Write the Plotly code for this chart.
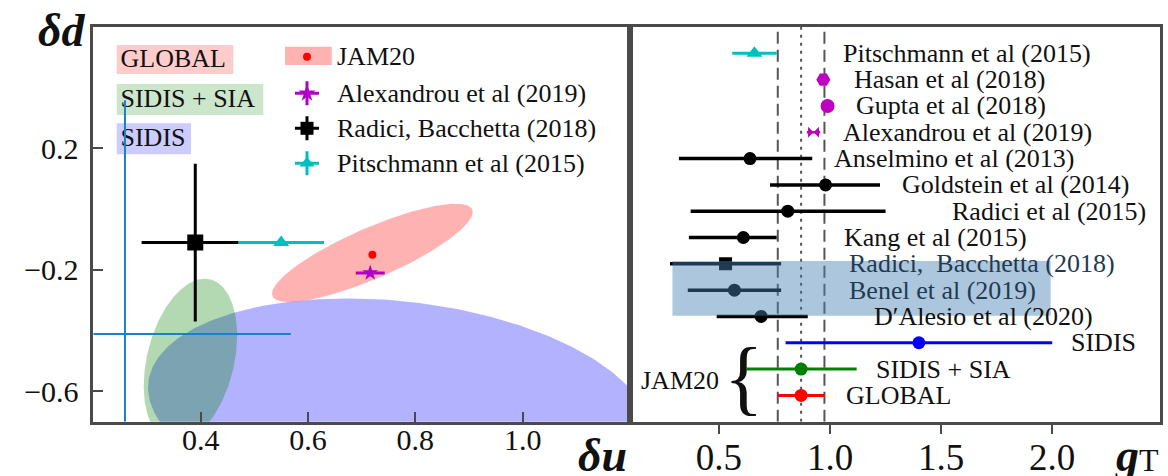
import numpy as np
import plotly.graph_objects as go

W, H = 1168, 476
FONT = "Liberation Serif"

# ---------------- left panel data (δu, δd) ----------------
pt_names = ["JAM20", "Alexandrou et al (2019)", "Radici, Bacchetta (2018)", "Pitschmann et al (2015)"]
pt_du = [0.72, 0.716, 0.39, 0.55]
pt_dd = [-0.15, -0.21, -0.11, -0.11]
pt_du_em = [0.0, 0.027, 0.10, 0.08]
pt_du_ep = [0.0, 0.027, 0.085, 0.08]
pt_dd_err = [0.0, 0.01, 0.26, 0.0]

ell_names = ["SIDIS", "SIDIS + SIA", "GLOBAL"]
ell_cu = [0.77, 0.381, 0.72]
ell_cd = [-0.664, -0.499, -0.144]
ell_ru = [0.468, 0.087, 0.187]
ell_rd = [0.370, 0.270, 0.162]
ell_rho = [-0.206, 0.306, 0.829]

guide_u = [0.259, 0.568]     # vertical line at δu, horizontal line end
guide_d = [-0.411, 0.359]    # horizontal line at δd, vertical line top

# ---------------- right panel data (g_T) ----------------
gt_labels = ["Pitschmann et al (2015)", "Hasan et al (2018)", "Gupta et al (2018)",
             "Alexandrou et al (2019)", "Anselmino et al (2013)", "Goldstein et al (2014)",
             "Radici et al (2015)", "Kang et al (2015)", "Radici,  Bacchetta (2018)",
             "Benel et al (2019)", "D\u2032Alesio et al (2020)", "SIDIS", "SIDIS + SIA", "GLOBAL"]
gt_val = [0.66, 0.97, 0.989, 0.926, 0.64, 0.98, 0.81, 0.61, 0.53, 0.57, 0.69, 1.40, 0.87, 0.87]
gt_em = [0.10, 0.0, 0.0, 0.03, 0.32, 0.25, 0.437, 0.245, 0.25, 0.21, 0.20, 0.60, 0.245, 0.105]
gt_ep = [0.10, 0.0, 0.0, 0.03, 0.28, 0.245, 0.44, 0.15, 0.25, 0.21, 0.21, 0.60, 0.25, 0.105]
gt_label_x = [1.05, 1.10, 1.106, 1.05, 1.007, 1.313, 1.541, 1.054, 1.077, 1.077, 1.19, 2.076, 1.20, 1.062]

highlight_x = [0.291, 1.993]
highlight_y = [4.03, 6.11]

# ---------------- styles ----------------
CYAN, MAG, BLK = "#00bfbf", "#c000c0", "#000000"
gt_color = [CYAN, MAG, MAG, MAG, BLK, BLK, BLK, BLK, BLK, BLK, BLK, "#0000ff", "#008000", "#ff0000"]
gt_symbol = ["triangle-up", "hexagon2", "circle", "bowtie", "circle", "circle", "circle", "circle",
             "square", "circle", "circle", "circle", "circle", "circle"]
gt_size = [14, 14, 14, 11, 13, 13, 13, 13, 13, 13, 13, 13, 13, 13]
gt_thick = [3, 2, 2, 2.5, 3.5, 3.5, 3.5, 3.5, 3.5, 3.5, 3.5, 3, 3, 3]
ell_fill = ["rgba(0,0,255,0.3)", "rgba(0,128,0,0.3)", "rgba(255,0,0,0.3)"]

# pixel geometry
LX0, LX1, RX1 = 93.3, 630.0, 1160.0
YT, YB = 27.0, 421.7
XR_L = [0.2, 1.2]; YR_L = [-0.7, 0.6]
XR_R = [0.1, 2.485]; YR_R = [0, 15]


def px(x):
    return x / W


def py(y):
    return 1 - y / H


def Lx(p):
    return XR_L[0] + (p - LX0) / (LX1 - LX0) * (XR_L[1] - XR_L[0])


def Ly(p):
    return YR_L[1] - (p - YT) / (YB - YT) * (YR_L[1] - YR_L[0])


fig = go.Figure()

# ellipses
for i in range(3):
    t = np.linspace(0, 2 * np.pi, 300)
    phi = np.arccos(ell_rho[i])
    xs = ell_cu[i] + ell_ru[i] * np.cos(t)
    ys = ell_cd[i] + ell_rd[i] * np.cos(t + phi)
    fig.add_trace(go.Scatter(x=xs, y=ys, mode="lines", fill="toself", fillcolor=ell_fill[i],
                             line=dict(width=0), hoverinfo="skip", showlegend=False,
                             xaxis="x", yaxis="y"))

# left boxed labels (as text traces so the guide line passes over them)
box_spec = [("GLOBAL", 45, 74, 233.3, "rgba(255,0,0,0.2)"),
            ("SIDIS + SIA", 84, 115, 263.3, "rgba(0,128,0,0.2)"),
            ("SIDIS", 123.3, 154.3, 191, "rgba(0,0,255,0.2)")]
for text, y0, y1, x1, fc in box_spec:
    fig.add_trace(go.Scatter(x=[Lx(116.7), Lx(x1), Lx(x1), Lx(116.7)], y=[Ly(y0), Ly(y0), Ly(y1), Ly(y1)],
                             mode="lines", fill="toself", fillcolor=fc, line=dict(width=0),
                             hoverinfo="skip", showlegend=False, xaxis="x", yaxis="y"))
    fig.add_trace(go.Scatter(x=[Lx(120.5)], y=[Ly((y0 + y1) / 2 + 1)], mode="text", text=[text],
                             textposition="middle right",
                             textfont=dict(family=FONT, size=26, color="#111"),
                             hoverinfo="skip", showlegend=False, xaxis="x", yaxis="y", cliponaxis=False))

# guide lines (blue)
fig.add_trace(go.Scatter(x=[guide_u[0], guide_u[0]], y=[YR_L[0], guide_d[1]], mode="lines",
                         line=dict(color="#1a7fd0", width=2), hoverinfo="skip", showlegend=False))
fig.add_trace(go.Scatter(x=[XR_L[0], guide_u[1]], y=[guide_d[0], guide_d[0]], mode="lines",
                         line=dict(color="#1a7fd0", width=2), hoverinfo="skip", showlegend=False))

# left points
pt_color = ["#ff0000", "#b000c8", BLK, CYAN]
pt_symbol = ["circle", "star", "square", "triangle-up"]
pt_size = [8, 12, 16, 14]
order = [2, 3, 0, 1]
for i in order:
    fig.add_trace(go.Scatter(
        x=[pt_du[i]], y=[pt_dd[i]], mode="markers",
        marker=dict(symbol=pt_symbol[i], size=pt_size[i], color=pt_color[i]),
        error_x=dict(type="data", symmetric=False, array=[pt_du_ep[i]], arrayminus=[pt_du_em[i]],
                     thickness=3, width=0, color=pt_color[i], visible=pt_du_ep[i] > 0),
        error_y=dict(type="data", array=[pt_dd_err[i]], thickness=3, width=0,
                     color=pt_color[i], visible=pt_dd_err[i] > 0),
        hoverinfo="skip", showlegend=False, xaxis="x", yaxis="y"))

# legend glyphs (left panel)
leg_rows = [56.7, 93.3, 128.3, 163.3]
gx = 307
for k, i in enumerate(range(4)):
    yy = Ly(leg_rows[k])
    has_err = i != 0
    fig.add_trace(go.Scatter(
        x=[Lx(gx)], y=[yy], mode="markers",
        marker=dict(symbol=pt_symbol[i], size=(8 if i == 0 else 13), color=pt_color[i]),
        error_x=dict(type="constant", value=12 / 535, thickness=3, width=0, color=pt_color[i], visible=has_err),
        error_y=dict(type="constant", value=12 / 303 * 1.0, thickness=3, width=0, color=pt_color[i], visible=has_err),
        hoverinfo="skip", showlegend=False, xaxis="x", yaxis="y", cliponaxis=False))

# right panel: reference lines from GLOBAL
g = gt_val[-1]
for xv, dash in [(g - gt_em[-1], "12px,6px"), (g, "3px,5px"), (g + gt_ep[-1], "12px,6px")]:
    fig.add_trace(go.Scatter(x=[xv, xv], y=YR_R, mode="lines",
                             line=dict(color="#555555", width=2, dash=dash),
                             hoverinfo="skip", showlegend=False, xaxis="x2", yaxis="y2"))

rows = list(range(len(gt_labels), 0, -1))
for i in range(len(gt_labels)):
    show_err = (gt_em[i] + gt_ep[i]) > 0
    fig.add_trace(go.Scatter(
        x=[gt_val[i]], y=[rows[i]], mode="markers",
        marker=dict(symbol=gt_symbol[i], size=gt_size[i], color=gt_color[i]),
        error_x=dict(type="data", symmetric=False, array=[gt_ep[i]], arrayminus=[gt_em[i]],
                     thickness=gt_thick[i], width=0, color=gt_color[i], visible=show_err),
        hoverinfo="skip", showlegend=False, xaxis="x2", yaxis="y2"))

annotations = []
for i in range(len(gt_labels)):
    col = "#1f3a51" if highlight_y[0] < rows[i] < highlight_y[1] else "#111111"
    annotations.append(dict(x=gt_label_x[i], y=rows[i], xref="x2", yref="y2", text=gt_labels[i],
                            showarrow=False, xanchor="left", yanchor="middle",
                            font=dict(family=FONT, size=26, color=col)))

# JAM20 brace
annotations.append(dict(x=px(721), y=py(380), xref="paper", yref="paper", text="JAM20", showarrow=False,
                        xanchor="right", yanchor="middle", font=dict(family=FONT, size=26, color="#111")))
annotations.append(dict(x=px(743), y=py(377), xref="paper", yref="paper", text="{", showarrow=False,
                        xanchor="center", yanchor="middle", font=dict(family=FONT, size=82, color="#111")))

# left legend text
for k, name in enumerate(pt_names):
    annotations.append(dict(x=px(335), y=py(leg_rows[k]), xref="paper", yref="paper", text=name,
                            showarrow=False, xanchor="left", yanchor="middle",
                            font=dict(family=FONT, size=26, color="#111")))

shapes = []
# JAM20 legend rect
shapes.append(dict(type="rect", xref="paper", yref="paper", x0=px(285), x1=px(331.7), y0=py(65), y1=py(46.7),
                   fillcolor="rgba(255,0,0,0.3)", line=dict(width=0), layer="below"))

# highlight rect on right panel
shapes.append(dict(type="rect", xref="x2", yref="y2", x0=highlight_x[0], x1=highlight_x[1],
                   y0=highlight_y[0], y1=highlight_y[1], fillcolor="rgba(70,130,180,0.45)",
                   line=dict(width=0), layer="above"))

# axis titles
annotations.append(dict(x=px(62), y=py(31), xref="paper", yref="paper", text="<b><i>δd</i></b>",
                        xanchor="center", yanchor="middle",
                        showarrow=False, font=dict(family=FONT, size=46, color="#111")))
annotations.append(dict(x=px(602), y=py(455), xref="paper", yref="paper", text="<b><i>δu</i></b>",
                        xanchor="center", yanchor="middle",
                        showarrow=False, font=dict(family=FONT, size=46, color="#111")))
annotations.append(dict(x=px(1137), y=py(455), xref="paper", yref="paper",
                        text="<b><i>g</i></b><span style='font-size:32px'>T</span>",
                        xanchor="center", yanchor="middle",
                        showarrow=False, font=dict(family=FONT, size=46, color="#111")))

AX = "#4a4a4a"
common = dict(showline=True, mirror=True, linecolor=AX, linewidth=2.5, showgrid=False,
              zeroline=False, automargin=False)
fig.update_layout(
    template="none",
    width=W, height=H, margin=dict(l=0, r=0, t=0, b=0, pad=0, autoexpand=False), autosize=False,
    paper_bgcolor="white", plot_bgcolor="rgba(0,0,0,0)",
    xaxis=dict(domain=[px(LX0), px(LX1)], range=XR_L, anchor="y",
               tickvals=[0.4, 0.6, 0.8, 1.0], ticktext=["0.4", "0.6", "0.8", "1.0"],
               ticks="inside", ticklen=10, tickwidth=2, tickcolor=AX, ticklabelstandoff=-10,
               tickfont=dict(family=FONT, size=30, color="#111"), **common),
    yaxis=dict(domain=[py(YB), py(YT)], range=YR_L, anchor="x",
               tickvals=[0.2, -0.2, -0.6], ticktext=["0.2", "\u22120.2", "\u22120.6"],
               ticks="inside", ticklen=10, tickwidth=2, tickcolor=AX, ticklabelstandoff=6,
               tickfont=dict(family=FONT, size=30, color="#111"), **common),
    xaxis2=dict(domain=[px(LX1), px(RX1)], range=XR_R, anchor="y2",
                tickvals=[0.5, 1.0, 1.5, 2.0], ticktext=["0.5", "1.0", "1.5", "2.0"],
                ticks="outside", ticklen=10, tickwidth=2, tickcolor=AX, ticklabelstandoff=-9,
                tickfont=dict(family=FONT, size=37, color="#111"), **common),
    yaxis2=dict(domain=[py(YB), py(YT)], range=YR_R, anchor="x2", showticklabels=False, ticks="",
                **common),
    annotations=annotations, shapes=shapes,
)

fig.write_html("out.html", config={"displayModeBar": False},
               post_script="document.body.style.margin='0px';")
